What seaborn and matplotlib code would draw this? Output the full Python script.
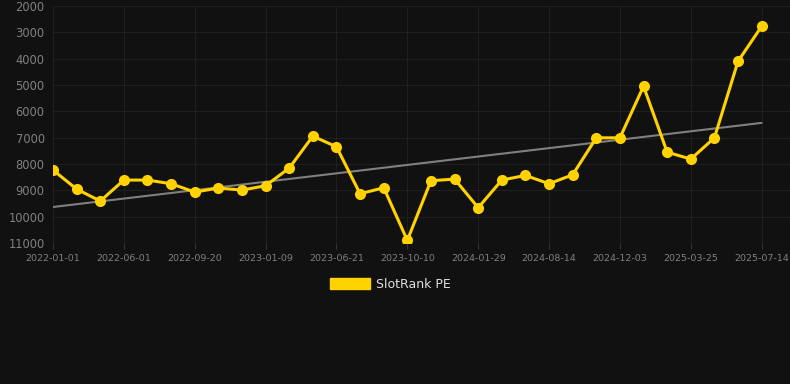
import numpy as np
import pandas as pd
import matplotlib
matplotlib.use("Agg")
import matplotlib.pyplot as plt
import matplotlib.patches as mpatches
import seaborn as sns

# SlotRank PE values, one point per period (lower rank value shown higher: inverted axis)
rank_values = [8231, 8952, 9408, 8610, 8610, 8750, 9066, 8914, 8990, 8826,
               8155, 6943, 7347, 9130, 8902, 10900, 8636, 8573, 9660, 8610,
               8434, 8750, 8409, 7006, 7006, 5047, 7550, 7814, 7006, 4099,
               2771]
tick_labels = ["2022-01-01", "2022-06-01", "2022-09-20", "2023-01-09", "2023-06-21",
               "2023-10-10", "2024-01-29", "2024-08-14", "2024-12-03", "2025-03-25",
               "2025-07-14"]
y_ticks = [2000, 3000, 4000, 5000, 6000, 7000, 8000, 9000, 10000, 11000]

BG = "#111111"
GOLD = "#FFD200"

df = pd.DataFrame({"idx": np.arange(len(rank_values)), "rank": rank_values})

# linear trend over the series
coef = np.polyfit(df["idx"], df["rank"], 1)
df["trend"] = np.polyval(coef, df["idx"])

sns.set_style("dark")
plt.rcParams["font.family"] = ["DejaVu Sans"]

fig = plt.figure(figsize=(7.9, 3.84), dpi=100, facecolor=BG)
ax = fig.add_axes([53 / 790, 1 - 243 / 384, 1 - 53 / 790, (243 - 6) / 384])
ax.set_facecolor(BG)

sns.lineplot(data=df, x="idx", y="trend", ax=ax, color="#808080", linewidth=1.5)
sns.lineplot(data=df, x="idx", y="rank", ax=ax, color=GOLD, linewidth=2.2,
             marker="o", markersize=8, markeredgecolor=GOLD, markeredgewidth=0)

ax.set_ylim(11000, 2000)
ax.set_xlim(0, 31.2)
ax.set_yticks(y_ticks)
ax.set_xticks(np.arange(0, len(rank_values), 3))
ax.set_xticklabels(tick_labels)
ax.set_xlabel("")
ax.set_ylabel("")

ax.grid(True, color="#1f1f1f", linewidth=0.8)
for s in ax.spines.values():
    s.set_visible(False)
ax.tick_params(axis="y", colors="#808080", labelsize=8.3, length=0, pad=6)
ax.tick_params(axis="x", colors="#333333", labelcolor="#808080", labelsize=6.8,
               length=4, width=0.8, pad=4, bottom=True)

handle = mpatches.Patch(color=GOLD, label="SlotRank PE")
fig.legend(handles=[handle], loc="center", bbox_to_anchor=(0.494, 0.26),
           frameon=False, handlelength=3.2, handleheight=0.9, handletextpad=0.45,
           labelcolor="#e0e0e0", fontsize=9)

fig.savefig("out.png", dpi=100, facecolor=BG)
